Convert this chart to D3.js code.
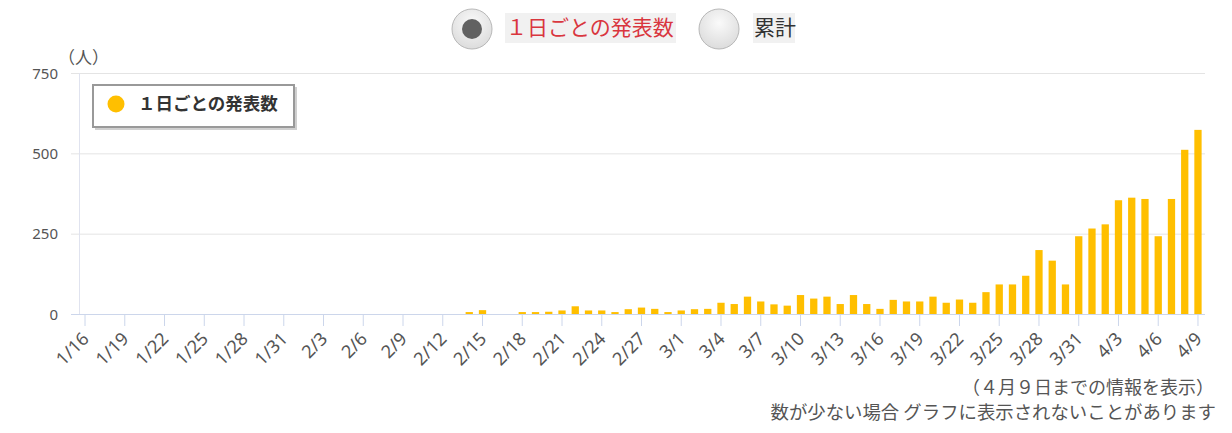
<!DOCTYPE html>
<html>
<head>
<meta charset="utf-8">
<script src="https://cdn.jsdelivr.net/npm/d3@7"></script>
<style>
  body { margin: 0; background: #fff; }
  svg { display: block; font-family: "Noto Sans CJK JP", "Noto Sans", sans-serif; }
</style>
</head>
<body>
<div id="chart"></div>
<script>
// days shown on the x axis
var days = [
  "1/16","1/17","1/18","1/19","1/20","1/21","1/22","1/23","1/24","1/25","1/26","1/27","1/28","1/29","1/30","1/31",
  "2/1","2/2","2/3","2/4","2/5","2/6","2/7","2/8","2/9","2/10","2/11","2/12","2/13","2/14","2/15","2/16","2/17",
  "2/18","2/19","2/20","2/21","2/22","2/23","2/24","2/25","2/26","2/27","2/28","2/29",
  "3/1","3/2","3/3","3/4","3/5","3/6","3/7","3/8","3/9","3/10","3/11","3/12","3/13","3/14","3/15","3/16",
  "3/17","3/18","3/19","3/20","3/21","3/22","3/23","3/24","3/25","3/26","3/27","3/28","3/29","3/30","3/31",
  "4/1","4/2","4/3","4/4","4/5","4/6","4/7","4/8","4/9"
];

// announced cases per day
var daily = [
  0,0,0,0,0,0,0,0,0,0,0,0,0,0,0,0,
  0,0,0,0,0,0,0,0,0,0,0,0,0,6,12,0,0,
  6,6,7,11,24,11,11,6,15,20,16,6,
  11,15,16,35,31,54,39,30,26,59,48,54,31,59,31,16,
  44,39,39,54,35,45,35,68,92,92,119,199,166,92,242,
  266,279,354,362,358,242,358,511,573
];

var tickDays = days.filter(function(d, i) { return i % 3 === 0; });
var yTicks = [0, 250, 500, 750];

var W = 1232, H = 433;
var svg = d3.select("#chart").append("svg")
    .attr("width", W)
    .attr("height", H);

// radio buttons on top
var radios = [
  {label: "１日ごとの発表数", cx: 472, on: true, color: "#d9363e", x0: 505, x1: 676},
  {label: "累計", cx: 719, on: false, color: "#333", x0: 753, x1: 795}
];
var grad = svg.append("defs").append("radialGradient")
    .attr("id", "btn").attr("cx", "50%").attr("cy", "35%").attr("r", "65%");
grad.append("stop").attr("offset", "0%").attr("stop-color", "#fafafa");
grad.append("stop").attr("offset", "100%").attr("stop-color", "#dcdcdc");

radios.forEach(function(r) {
  svg.append("circle")
    .attr("cx", r.cx).attr("cy", 29).attr("r", 20)
    .attr("fill", "url(#btn)")
    .attr("stroke", "#b8b8b8").attr("stroke-width", 1);
  if (r.on) {
    svg.append("circle")
      .attr("cx", r.cx).attr("cy", 29).attr("r", 10)
      .attr("fill", "#616161");
  }
  svg.append("rect")
    .attr("x", r.x0).attr("y", 13)
    .attr("width", r.x1 - r.x0).attr("height", 30)
    .attr("fill", "#f1f1f1");
  svg.append("text")
    .attr("x", r.x0 + 1).attr("y", 35)
    .attr("fill", r.color)
    .style("font-size", "21px")
    .text(r.label);
});

// scales
var x = d3.scaleBand()
  .domain(days)
  .range([78.4, 1204.6])
  .paddingInner(0.45)
  .paddingOuter(0.225);

var y = d3.scaleLinear()
  .domain([0, 750])
  .range([314, 73]);

// gridlines
svg.append("g")
  .selectAll("line")
  .data(yTicks.filter(function(d) { return d > 0; }))
  .join("line")
    .attr("x1", 71).attr("x2", 1205)
    .attr("y1", function(d) { return y(d) + 0.5; })
    .attr("y2", function(d) { return y(d) + 0.5; })
    .attr("stroke", "#e4e4e4");

// y axis line
svg.append("line")
  .attr("x1", 79.5).attr("x2", 79.5)
  .attr("y1", 73).attr("y2", 314)
  .attr("stroke", "#e0e3ef");

// y labels
svg.append("g")
  .selectAll("text")
  .data(yTicks)
  .join("text")
    .attr("x", 58)
    .attr("y", function(d) { return y(d) + 5.5; })
    .attr("text-anchor", "end")
    .attr("fill", "#555")
    .style("font-size", "15px")
    .style("font-family", "'Noto Sans', sans-serif")
    .text(function(d) { return d; });

// unit label
svg.append("text")
  .attr("x", 58).attr("y", 64)
  .attr("fill", "#555")
  .style("font-size", "17px")
  .text("（人）");

// bars
svg.append("g")
  .selectAll("rect")
  .data(daily)
  .join("rect")
    .attr("x", function(d, i) { return x(days[i]); })
    .attr("y", function(d) { return y(d); })
    .attr("width", x.bandwidth())
    .attr("height", function(d) { return y(0) - y(d); })
    .attr("fill", "#ffbf00");

// x axis
var xAxis = svg.append("g")
  .attr("transform", "translate(0,314)")
  .call(d3.axisBottom(x).tickValues(tickDays).tickSize(12).tickSizeOuter(0).tickPadding(0));
xAxis.select(".domain")
  .attr("d", "M71,0.5H1205")
  .attr("stroke", "#ccd6eb");
xAxis.selectAll(".tick line").attr("stroke", "#ccd6eb");
xAxis.selectAll(".tick text")
  .attr("fill", "#555")
  .style("font-size", "18px")
  .style("font-family", "'Noto Sans', sans-serif")
  .attr("text-anchor", "end")
  .attr("dy", null)
  .attr("y", null)
  .attr("transform", "translate(5,26) rotate(-45)");

// legend
var lg = svg.append("g");
lg.append("rect")
  .attr("x", 95).attr("y", 87)
  .attr("width", 202).attr("height", 43)
  .attr("fill", "#bbb").attr("opacity", 0.7);
lg.append("rect")
  .attr("x", 93).attr("y", 85)
  .attr("width", 201).attr("height", 42)
  .attr("fill", "#fff")
  .attr("stroke", "#999").attr("stroke-width", 2);
lg.append("circle")
  .attr("cx", 116).attr("cy", 104).attr("r", 8.5)
  .attr("fill", "#ffbf00");
lg.append("text")
  .attr("x", 138).attr("y", 110)
  .attr("fill", "#333")
  .style("font-size", "17.5px")
  .style("font-weight", "bold")
  .text("１日ごとの発表数");

// footnotes
svg.append("text")
  .attr("x", 1214).attr("y", 394)
  .attr("text-anchor", "end")
  .attr("fill", "#555")
  .style("font-size", "18px")
  .text("（４月９日までの情報を表示）");
svg.append("text")
  .attr("x", 1216).attr("y", 419)
  .attr("text-anchor", "end")
  .attr("fill", "#555")
  .style("font-size", "18.4px")
  .text("数が少ない場合 グラフに表示されないことがあります");
</script>
</body>
</html>
